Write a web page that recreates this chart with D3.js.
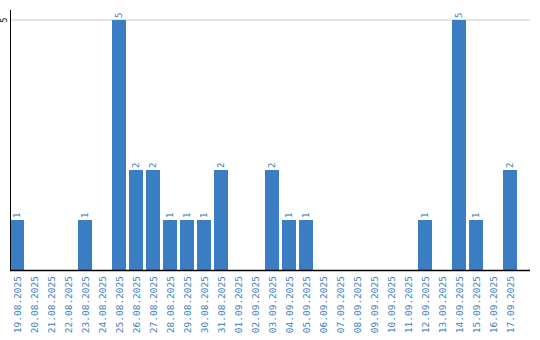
<!DOCTYPE html>
<html><head><meta charset="utf-8">
<script src="https://cdn.jsdelivr.net/npm/d3@7"></script>
<style>body{margin:0;background:#fff}svg{display:block}</style>
</head><body>
<script>
const categories = ["19.08.2025","20.08.2025","21.08.2025","22.08.2025","23.08.2025","24.08.2025","25.08.2025","26.08.2025","27.08.2025","28.08.2025","29.08.2025","30.08.2025","31.08.2025","01.09.2025","02.09.2025","03.09.2025","04.09.2025","05.09.2025","06.09.2025","07.09.2025","08.09.2025","09.09.2025","10.09.2025","11.09.2025","12.09.2025","13.09.2025","14.09.2025","15.09.2025","16.09.2025","17.09.2025"];
const values = [1,0,0,0,1,0,5,2,2,1,1,1,2,0,0,2,1,1,0,0,0,0,0,0,1,0,5,1,0,2];
const yTicks = [5];

const W = 540, H = 340;
const color = "#3b7dc3";
const svg = d3.select("body").append("svg").attr("width", W).attr("height", H);

const x = d3.scaleBand().domain(categories).range([10, 517]).paddingInner(3/17).paddingOuter(0);
const y = d3.scaleLinear().domain([0, 5]).range([270, 20]);

// grid
svg.append("g").selectAll("line").data(yTicks).join("line")
  .attr("x1", 10).attr("x2", 530)
  .attr("y1", d => y(d)).attr("y2", d => y(d))
  .attr("stroke", "#c8c8c8").attr("stroke-width", 1);

// bars
svg.append("g").selectAll("rect").data(values.map((v,i)=>({c:categories[i], v}))).join("rect")
  .filter(d => d.v > 0)
  .attr("x", d => x(d.c)).attr("width", x.bandwidth())
  .attr("y", d => y(d.v)).attr("height", d => y(0) - y(d.v))
  .attr("fill", color);

// value labels
svg.append("g").selectAll("text").data(values.map((v,i)=>({c:categories[i], v}))).join("text")
  .filter(d => d.v > 0)
  .attr("transform", d => `translate(${x(d.c) + x.bandwidth()/2 + 3},${y(d.v) - 2}) rotate(-90)`)
  .attr("font-family", "DejaVu Sans Mono, monospace").attr("font-size", 9)
  .attr("fill", color).attr("text-anchor", "start")
  .text(d => d.v);

// y axis line
svg.append("line").attr("x1", 10.5).attr("x2", 10.5).attr("y1", 10).attr("y2", 270)
  .attr("stroke", "#000").attr("stroke-width", 1);
// baseline
svg.append("line").attr("x1", 10).attr("x2", 530).attr("y1", 270.5).attr("y2", 270.5)
  .attr("stroke", "#000").attr("stroke-width", 1.5);

// y tick labels
svg.append("g").selectAll("text").data(yTicks).join("text")
  .attr("transform", d => `translate(7,${y(d)}) rotate(-90)`)
  .attr("font-family", "DejaVu Sans Mono, monospace").attr("font-size", 8)
  .attr("fill", "#000").attr("text-anchor", "middle")
  .text(d => d);

// x labels
svg.append("g").selectAll("text").data(categories).join("text")
  .attr("transform", d => `translate(${x(d) + x.bandwidth()/2 + 4},276) rotate(-90)`)
  .attr("font-family", "DejaVu Sans Mono, monospace").attr("font-size", 9.5)
  .attr("fill", color).attr("text-anchor", "end")
  .text(d => d);
</script>
</body></html>
